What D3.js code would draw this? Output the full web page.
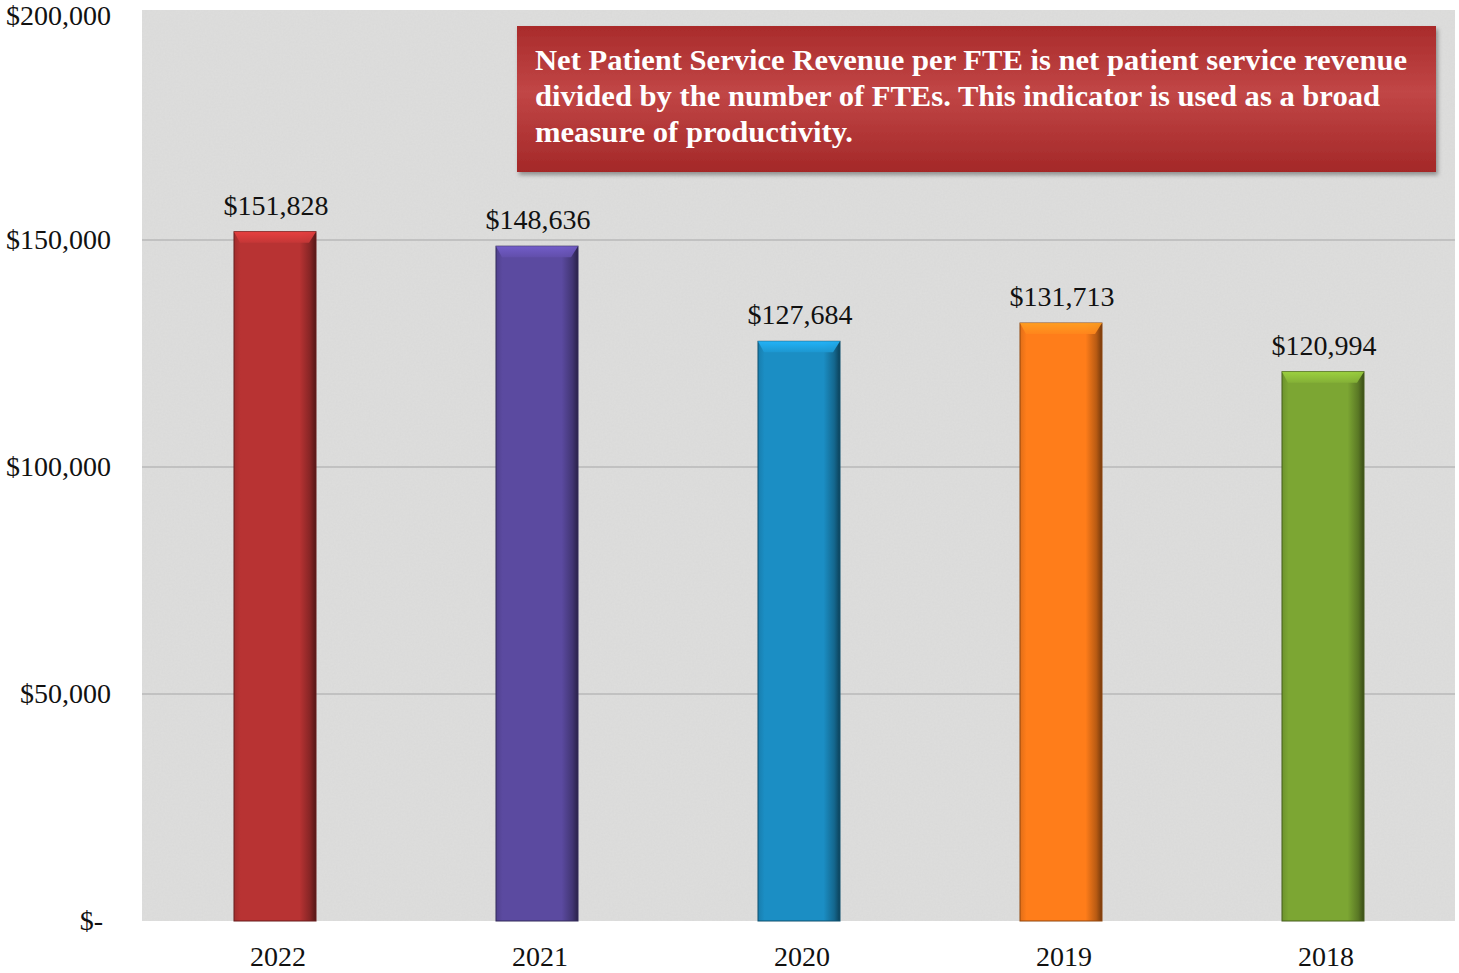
<!DOCTYPE html>
<html>
<head>
<meta charset="utf-8">
<script src="https://cdn.jsdelivr.net/npm/d3@7"></script>
<style>
  html, body { margin: 0; padding: 0; background: #ffffff; }
  svg { display: block; }
  text { font-family: "Liberation Serif", "Times New Roman", serif; }
</style>
</head>
<body>
<svg id="chart" width="1459" height="973"></svg>
<script>
// Net patient service revenue per FTE, by fiscal year
const years = ["2022", "2021", "2020", "2019", "2018"];
const revenuePerFte = [151828, 148636, 127684, 131713, 120994];
const barColors = ["#b83333", "#5b4aa0", "#1b8ec4", "#ff7d1a", "#7ca633"];
const yTicks = [0, 50000, 100000, 150000, 200000];
const yTickLabels = ["$-", "$50,000", "$100,000", "$150,000", "$200,000"];
const noteLines = [
  "Net Patient Service Revenue per FTE is net patient service revenue",
  "divided by the number of FTEs. This indicator is used as a broad",
  "measure of productivity."
];
const noteLineWidths = [872, 845, 318];

const svg = d3.select("#chart");
const plot = { left: 142, right: 1455, top: 10, bottom: 921 };
const labelSize = 28;

const x = d3.scaleBand()
  .domain(years)
  .range([144, 1454])
  .paddingInner(0.687)
  .paddingOuter(0.3435);

const y = d3.scaleLinear()
  .domain([0, 200000])
  .range([plot.bottom, 13]);

const defs = svg.append("defs");

// grainy grey backdrop of the plot area
const grain = defs.append("filter").attr("id", "grain")
  .attr("x", 0).attr("y", 0).attr("width", 1).attr("height", 1);
grain.append("feTurbulence").attr("type", "fractalNoise")
  .attr("baseFrequency", "0.55").attr("numOctaves", 2).attr("seed", 7).attr("result", "n");
grain.append("feColorMatrix").attr("in", "n").attr("type", "matrix")
  .attr("values", "0 0 0 0 0.6  0 0 0 0 0.6  0 0 0 0 0.6  0 0 0 0.25 0")
  .attr("result", "dots");
grain.append("feComposite").attr("in", "dots").attr("in2", "SourceGraphic").attr("operator", "in");

svg.append("rect")
  .attr("x", plot.left).attr("y", plot.top)
  .attr("width", plot.right - plot.left).attr("height", plot.bottom - plot.top)
  .attr("fill", "#dededd");
svg.append("rect")
  .attr("x", plot.left).attr("y", plot.top)
  .attr("width", plot.right - plot.left).attr("height", plot.bottom - plot.top)
  .attr("fill", "#dededd")
  .attr("filter", "url(#grain)");

// horizontal gridlines
svg.append("g")
  .selectAll("line")
  .data(yTicks.filter(d => d > 0 && d < 200000))
  .join("line")
  .attr("x1", plot.left).attr("x2", plot.right)
  .attr("y1", d => y(d)).attr("y2", d => y(d))
  .attr("stroke", "#b9b9b9").attr("stroke-width", 1.4);

// y-axis labels
const yAxis = d3.axisLeft(y)
  .tickValues(yTicks)
  .tickFormat((d, i) => yTickLabels[i])
  .tickSize(0)
  .tickPadding(0);
const yg = svg.append("g").attr("transform", "translate(111,0)").call(yAxis);
yg.select(".domain").remove();
yg.selectAll("text")
  .attr("font-family", "Liberation Serif, Times New Roman, serif")
  .attr("font-size", labelSize).attr("fill", "#111")
  .attr("dy", "0.32em");
yg.selectAll(".tick").filter(d => d === 0).select("text").attr("x", -8);
// keep the top label inside the page
yg.selectAll(".tick").filter(d => d === 200000).select("text").attr("y", 3);

// x-axis labels
const xAxis = d3.axisBottom(x).tickSize(0).tickPadding(0);
const xg = svg.append("g").attr("transform", `translate(0,${plot.bottom + 25})`).call(xAxis);
xg.select(".domain").remove();
xg.selectAll("text")
  .attr("font-family", "Liberation Serif, Times New Roman, serif")
  .attr("font-size", labelSize).attr("fill", "#111")
  .attr("dx", 3)
  .attr("dy", "0.71em");

// per-bar gradients: shaded body and a lighter bevelled cap
barColors.forEach((c, i) => {
  const base = d3.rgb(c);
  const g = defs.append("linearGradient").attr("id", `body${i}`)
    .attr("x1", 0).attr("x2", 1).attr("y1", 0).attr("y2", 0);
  g.append("stop").attr("offset", "0%").attr("stop-color", base.darker(0.35));
  g.append("stop").attr("offset", "8%").attr("stop-color", base);
  g.append("stop").attr("offset", "80%").attr("stop-color", base);
  g.append("stop").attr("offset", "93%").attr("stop-color", base.darker(0.9));
  g.append("stop").attr("offset", "100%").attr("stop-color", base.darker(2.2));

  const t = defs.append("linearGradient").attr("id", `cap${i}`)
    .attr("x1", 0).attr("x2", 0).attr("y1", 0).attr("y2", 1);
  t.append("stop").attr("offset", "0%").attr("stop-color", base.brighter(0.7));
  t.append("stop").attr("offset", "100%").attr("stop-color", base.brighter(0.2));
});

const data = years.map((yr, i) => ({ year: yr, value: revenuePerFte[i], i }));

const bars = svg.append("g").selectAll("g").data(data).join("g");

bars.append("rect")
  .attr("x", d => x(d.year))
  .attr("y", d => y(d.value))
  .attr("width", x.bandwidth())
  .attr("height", d => y(0) - y(d.value))
  .attr("fill", d => `url(#body${d.i})`)
  .attr("stroke", d => d3.rgb(barColors[d.i]).darker(1.6))
  .attr("stroke-width", 1);

// bevelled top of each bar
bars.append("path")
  .attr("d", d => {
    const x0 = x(d.year), x1 = x0 + x.bandwidth(), y0 = y(d.value);
    return `M${x0},${y0} L${x1},${y0} L${x1 - 7},${y0 + 11} L${x0 + 6},${y0 + 11} Z`;
  })
  .attr("fill", d => `url(#cap${d.i})`)
  .attr("opacity", 0.9);

// value labels
bars.append("text")
  .attr("x", d => x(d.year) + x.bandwidth() / 2 + 1)
  .attr("y", d => y(d.value) - 17)
  .attr("text-anchor", "middle")
  .attr("font-size", labelSize)
  .attr("fill", "#111")
  .text(d => d3.format("$,")(d.value));

// explanatory note
const shadow = defs.append("filter").attr("id", "noteShadow")
  .attr("x", "-5%").attr("y", "-10%").attr("width", "110%").attr("height", "125%");
shadow.append("feDropShadow").attr("dx", 2).attr("dy", 3).attr("stdDeviation", 2)
  .attr("flood-color", "#000").attr("flood-opacity", 0.35);

const noteGrad = defs.append("linearGradient").attr("id", "noteFill")
  .attr("x1", 0).attr("x2", 0).attr("y1", 0).attr("y2", 1);
noteGrad.append("stop").attr("offset", "0%").attr("stop-color", "#a92b2b");
noteGrad.append("stop").attr("offset", "45%").attr("stop-color", "#c14646");
noteGrad.append("stop").attr("offset", "100%").attr("stop-color", "#a42828");

const note = svg.append("g");
note.append("rect")
  .attr("x", 517).attr("y", 26).attr("width", 919).attr("height", 146)
  .attr("fill", "url(#noteFill)")
  .attr("filter", "url(#noteShadow)");
note.selectAll("text").data(noteLines).join("text")
  .attr("x", 535)
  .attr("y", (d, i) => 70 + i * 36)
  .attr("font-size", 29).attr("font-weight", "bold").attr("fill", "#ffffff")
  .attr("textLength", (d, i) => noteLineWidths[i])
  .attr("lengthAdjust", "spacingAndGlyphs")
  .text(d => d);
</script>
</body>
</html>
